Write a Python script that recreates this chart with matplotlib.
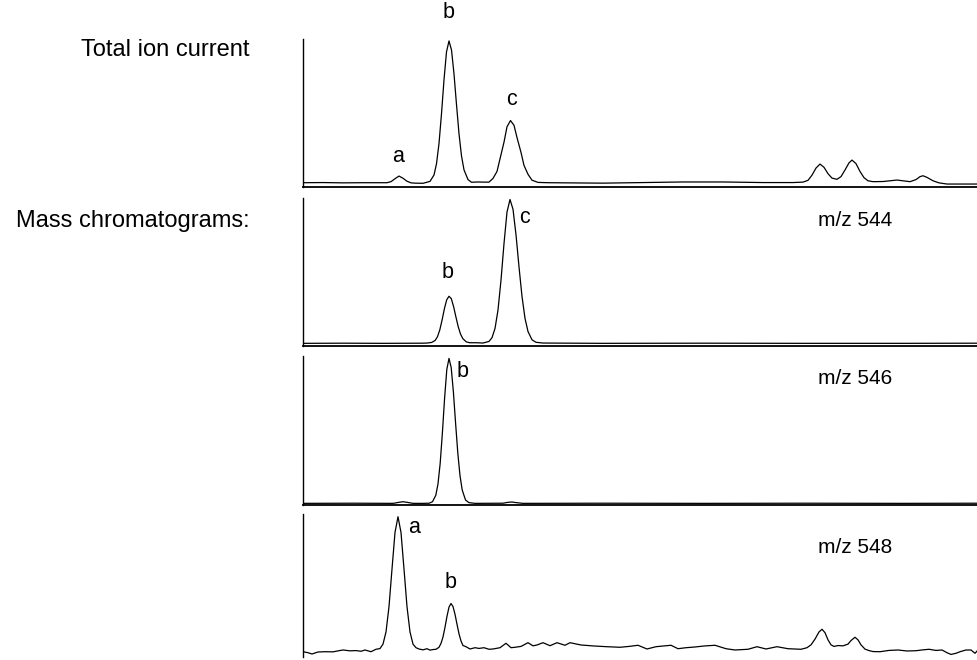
import numpy as np
import matplotlib
matplotlib.use("Agg")
import matplotlib.pyplot as plt

plt.rcParams["font.family"] = ["Liberation Sans", "DejaVu Sans"]

# total ion current (scan number, relative intensity %)
ticScan = [0, 20, 40, 60, 80, 84, 88, 92, 96, 100, 104, 108, 112, 120,
           127, 131, 133.5, 136, 138.5, 141, 143.5, 146, 148.5, 151, 153.5, 156, 158.5, 161, 165, 168.5,
           175, 180, 186, 190, 194, 197, 201, 204, 207.5, 211, 214, 218, 221, 225, 229, 235,
           245, 300, 340, 380, 420, 460, 490, 500, 505, 509, 513, 517, 521, 525, 529, 534,
           538, 542, 546, 549, 553, 557, 561, 565, 570, 580, 594, 607, 613, 617, 620, 624,
           630, 636, 644, 675]
ticInt = [2.9, 3.0, 2.8, 2.9, 2.9, 2.9, 3.6, 5.6, 7.4, 5.9, 3.9, 2.8, 2.6, 2.5,
          3.8, 8.1, 15.7, 29.4, 49.5, 72.4, 91.3, 98.7, 92.6, 76.4, 55.7, 36.0, 21.0, 11.6, 5.0, 3.2,
          3.4, 3.3, 3.3, 5.8, 10.5, 19.0, 30.3, 40.7, 44.9, 41.7, 33.4, 23.4, 14.6, 8.6, 4.6, 3.1,
          2.9, 2.6, 3.0, 3.4, 3.4, 3.0, 3.0, 3.3, 4.5, 8.0, 12.8, 15.5, 13.3, 9.0, 6.0, 5.2,
          7.0, 11.5, 16.3, 18.2, 15.8, 10.5, 6.3, 4.2, 3.6, 3.7, 4.7, 3.6, 5.0, 7.0, 7.6, 6.5,
          4.2, 2.8, 2.0, 2.0]

# m/z 544
mz544Scan = [0, 40, 80, 120, 124, 128.7, 132.2, 134.5, 136.8, 139.1, 141.4, 143.7, 146, 148.3,
             150.6, 152.9, 155.2, 157.5, 159.8, 163.3, 166.7, 174, 180, 186, 189, 192, 195, 198,
             201, 204, 207, 210, 213, 216, 219, 222, 225, 229, 233, 240, 300, 400, 500, 600, 675]
mz544Int = [1.8, 1.9, 1.8, 1.9, 2.0, 2.4, 3.8, 6.3, 10.9, 17.6, 25.2, 31.2, 33.6, 32.0,
            26.6, 19.7, 13.1, 8.1, 5.0, 2.8, 2.2, 2.2, 2.0, 3.1, 5.6, 11.8, 24.3, 44.5,
            69.2, 90.5, 99.0, 92.4, 75.2, 53.5, 33.5, 18.7, 9.8, 4.2, 2.5, 2.0, 1.8, 1.9, 1.8, 1.8, 1.9]

# m/z 546
mz546Scan = [0, 50, 90, 96, 100, 104, 110, 120, 126.2, 129.5, 132.8, 135, 137.2, 139.4, 141.6,
             143.8, 146, 148.2, 150.4, 152.6, 154.8, 157, 159.2, 162.5, 165.8, 172, 200, 205, 209,
             213, 220, 300, 400, 500, 600, 675]
mz546Int = [1.1, 1.2, 1.1, 1.8, 2.2, 1.8, 1.1, 1.1, 1.2, 2.2, 6.5, 14.2, 28.1, 48.5, 71.7,
            90.9, 98.4, 92.2, 75.8, 54.8, 34.9, 19.7, 10.1, 3.4, 1.6, 1.1, 1.2, 1.8, 2.0,
            1.6, 1.1, 1.2, 1.1, 1.2, 1.1, 1.2]

# m/z 548
mz548Scan = [0, 5, 9, 15, 22, 30, 36, 40, 47, 53, 58, 62, 68, 73, 77, 80, 83, 86, 89, 92, 95,
             98, 101, 104, 107, 110, 113, 116, 120, 124, 127, 130, 133, 136, 138, 140, 142, 144,
             146, 148, 150, 152, 154, 156, 158, 160, 163, 167, 172, 176, 181, 186, 190, 197, 203,
             208, 212, 218, 225, 230, 234, 240, 247, 254, 262, 267, 278, 291, 304, 317, 326, 335,
             344, 353, 368, 375, 383, 392, 401, 412, 423, 432, 445, 454, 463, 474, 485, 498, 504,
             508, 512, 516, 519, 522, 525, 528, 531, 535, 540, 545, 548, 552, 555, 558, 562, 566,
             570, 577, 586, 595, 604, 613, 620, 626, 633, 639, 644, 648, 653, 657, 663, 668, 672, 675]
mz548Int = [3.7, 3.0, 2.1, 3.5, 3.7, 3.6, 4.4, 4.9, 4.3, 4.5, 4.0, 4.9, 3.7, 5.4, 5.9, 9.0, 17.5,
            35.2, 61.5, 87.1, 98.1, 87.1, 61.5, 35.2, 17.5, 9.0, 6.5, 5.6, 5.0, 5.8, 4.8, 5.2, 5.4,
            6.8, 9.5, 14.0, 20.8, 28.5, 34.9, 37.4, 35.3, 29.9, 22.9, 16.2, 11.2, 8.0, 7.2, 5.6,
            6.5, 6.0, 6.5, 5.4, 5.6, 6.5, 9.6, 6.5, 6.8, 7.4, 10.0, 7.8, 8.4, 10.0, 7.9, 10.0, 8.2,
            10.0, 8.4, 7.7, 7.2, 6.8, 7.4, 8.2, 5.6, 7.2, 8.2, 5.8, 6.5, 7.0, 7.7, 8.2, 5.8, 4.9,
            5.4, 7.2, 5.6, 7.2, 5.8, 5.4, 6.5, 8.5, 12.5, 17.5, 19.4, 17.0, 12.0, 8.5, 7.4, 8.0,
            7.8, 9.0, 11.5, 13.8, 12.0, 8.5, 5.5, 4.5, 3.8, 3.7, 4.6, 4.9, 4.2, 4.4, 5.0, 5.4, 4.6,
            4.9, 3.0, 1.8, 2.6, 3.7, 4.9, 4.9, 2.6, 4.9]

# peak letters (letter, scan, intensity) and trace names
ticPeaks = [("a", 95, 20.3), ("b", 146, 118.0), ("c", 209, 58.8)]
mz544Peaks = [("b", 145, 50.0), ("c", 222, 86.5)]
mz546Peaks = [("b", 160, 89.3)]
mz548Peaks = [("a", 111, 90.9), ("b", 148, 52.4)]
traceNames = ["", "m/z 544", "m/z 546", "m/z 548"]
traceNameY = [0, 85.1, 84.6, 76.9]

if __name__ == "__main__":
    W, H = 978, 660
    fig = plt.figure(figsize=(W/100, H/100), dpi=100)
    # panel top/bottom in pixels
    panelBox = [(39, 187), (198, 346), (356, 505), (514, 657)]
    traces = [(ticScan, ticInt, ticPeaks), (mz544Scan, mz544Int, mz544Peaks),
              (mz546Scan, mz546Int, mz546Peaks), (mz548Scan, mz548Int, mz548Peaks)]
    xLeft = 303
    for idx, ((top, bot), (sc, it, pk)) in enumerate(zip(panelBox, traces)):
        ax = fig.add_axes([xLeft/W, 1-bot/H, (W-xLeft)/W, (bot-top)/H])
        ax.plot(sc, it, color="black", lw=0.9)
        ax.set_xlim(0, W-xLeft)
        ax.set_ylim(0, 100)
        ax.set_xticks([])
        ax.set_yticks([])
        ax.spines["top"].set_visible(False)
        ax.spines["right"].set_visible(False)
        ax.spines["left"].set_linewidth(1.0)
        ax.spines["bottom"].set_linewidth(1.3)
        if idx == 3: ax.spines["bottom"].set_visible(False)
        for lab, px, py in pk:
            ax.text(px, py, lab, fontsize=15.5, ha="center", va="center", clip_on=False)
        if traceNames[idx]:
            ax.text(515, traceNameY[idx], traceNames[idx], fontsize=15, ha="left", va="center")

    fig.text(250/W, 1-56/H, "Total ion current", fontsize=17, ha="right", va="baseline")
    fig.text(250/W, 1-227/H, "Mass chromatograms:", fontsize=17, ha="right", va="baseline")
    plt.savefig("out.png", dpi=100)
    plt.close()
